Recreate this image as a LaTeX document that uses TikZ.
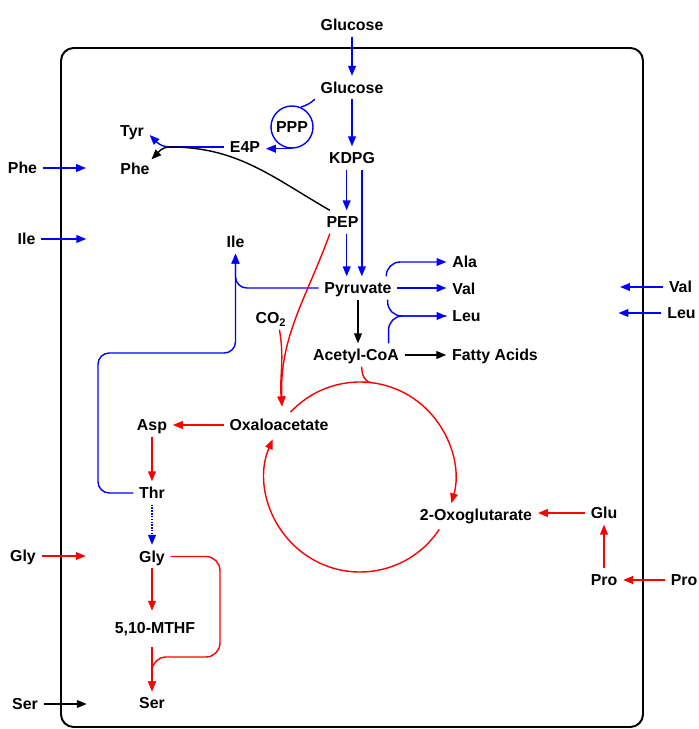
\documentclass[tikz,border=0pt]{standalone}
\usepackage{fontspec}
\setmainfont{Liberation Sans}
\usetikzlibrary{calc,arrows.meta}
\definecolor{PathBlue}{RGB}{0,0,255}
\definecolor{PathRed}{RGB}{255,0,0}

\begin{document}
\begin{tikzpicture}[x=0.025cm, y=0.025cm,
    met/.style={font=\fontsize{11.3}{13}\selectfont\bfseries, text height=8.2pt, text depth=0pt, inner sep=4pt},
    flow/.style={line width=1pt, -{Triangle[length=7pt,width=5.5pt]}},
    bluearr/.style={flow, PathBlue},
    redarr/.style={flow, PathRed},
    blackarr/.style={flow, black},
    bluepath/.style={line width=1pt, PathBlue},
    redpath/.style={line width=1pt, PathRed}]
  \useasboundingbox (0,0) rectangle (698,729);
  \draw[line width=1.4pt, rounded corners=9pt] (61,2) rectangle (643,681);

  % metabolites inside the cell
  \node[met] (glcout) at (352,704) {Glucose};
  \node[met] (glc) at (352,641.5) {Glucose};
  \node[draw=PathBlue, line width=1pt, circle, minimum size=1.05cm, inner sep=0pt,
        font=\fontsize{11.3}{13}\selectfont\bfseries] (ppp) at (292,602) {PPP};
  \node[met] (e4p) at (245,582) {E4P};
  \node[met] (tyr) at (132,598) {Tyr};
  \node[met] (phe) at (135,560) {Phe};
  \node[met] (kdpg) at (352,571) {KDPG};
  \node[met] (pep) at (342.5,507) {PEP};
  \node[met] (ile) at (235.5,487) {Ile};
  \node[met] (pyr) at (358,441) {Pyruvate};
  \node[met, anchor=west] (ala) at (446.4,467) {Ala};
  \node[met, anchor=west] (val) at (446.4,440) {Val};
  \node[met, anchor=west] (leu) at (446.4,413) {Leu};
  \node[met] (co2) at (271,411) {CO\textsubscript{2}};
  \node[met] (acoa) at (356,374) {Acetyl-CoA};
  \node[met] (fatty) at (495,374) {Fatty Acids};
  \node[met] (oaa) at (279,304) {Oxaloacetate};
  \node[met] (asp) at (152,304) {Asp};
  \node[met] (thr) at (152,236) {Thr};
  \node[met] (gly) at (152,172.5) {Gly};
  \node[met] (mthf) at (155,101) {5,10-MTHF};
  \node[met] (ser) at (152,26) {Ser};
  \node[met] (oxo) at (476,214) {2-Oxoglutarate};
  \node[met] (glu) at (604,216) {Glu};
  \node[met] (pro) at (604,149) {Pro};

  % uptake from outside
  \node[met] (pheout) at (22.5,561) {Phe};
  \node[met] (ileout) at (26.5,490) {Ile};
  \node[met] (glyout) at (23,173) {Gly};
  \node[met] (serout) at (25,25) {Ser};
  \node[met] (valout) at (680.5,442) {Val};
  \node[met] (leuout) at (681.5,416) {Leu};
  \node[met] (proout) at (684,149) {Pro};

  \coordinate (aro) at (170,582);
  \coordinate (thrloop) at (98,376);
  \coordinate (glyloop) at (220,72);
  \coordinate (tca) at (360,252);
  \coordinate (oaatop) at ($(oaa.north)+(3,7)$);

  % glucose, PPP and aromatics
  \draw[bluearr] (glcout) -- (glc);
  \draw[bluearr] (glc) -- (kdpg);
  \draw[bluepath] (glc.south west) to[out=225,in=20] (ppp.66);
  \draw[bluearr] (ppp.south) -- (ppp.south -| e4p.east);
  \draw[bluepath] (e4p.west) -- (aro);
  \draw[bluearr] (aro) to[out=180,in=-45] ($(tyr.east)+(0,-4)$);
  \draw[blackarr] ([xshift=-9pt]pep.north) to[out=150,in=0] (aro) to[out=180,in=45] ($(phe.north east)+(-4,-2)$);

  % KDPG, PEP, pyruvate
  \draw[bluearr] ([xshift=-3.8pt]kdpg.south) -- ([xshift=-3.8pt]kdpg.south |- pep.north);
  \draw[bluearr] ([xshift=7pt]kdpg.south) -- ([xshift=7pt]kdpg.south |- pyr.north);
  \draw[bluearr] ([xshift=3pt]pep.south) -- ([xshift=3pt]pep.south |- pyr.north);
  \draw[bluearr, rounded corners=8pt] (pyr.west) -| (ile.south);
  \draw[bluearr, rounded corners=8pt] (thr.west) -| (thrloop) -| (ile.south);
  \draw[bluearr, rounded corners=10pt] ([xshift=-8pt]pyr.north east) |- (ala.west);
  \draw[bluearr] (pyr.east) -- (pyr.east -| val.west);
  \draw[bluearr, rounded corners=10pt] ([xshift=-7pt]pyr.south east) |- (leu.west);
  \draw[bluepath, rounded corners=10pt] ([xshift=-11.5pt]acoa.north east) |- (leu.west);
  \draw[blackarr] (pyr.south) -- (pyr.south |- acoa.north);
  \draw[blackarr] (acoa) -- (fatty);

  % anaplerosis and aspartate family
  \draw[redarr] ([xshift=6pt]co2.south) to[out=-80,in=95] (oaatop);
  \draw[redarr] ([xshift=-9pt]pep.south) to[out=-110,in=92] (oaatop);
  \draw[redarr] (oaa.west) -- (oaa.west -| asp.east);
  \draw[redarr] (asp) -- (thr);
  \draw[bluearr, densely dotted] (thr) -- (gly);
  \draw[redarr, shorten >=4pt] (gly) -- (gly |- mthf.north);
  \draw[redarr, shorten <=5pt] (mthf.south -| ser.north) -- (ser.north);
  \draw[redarr, rounded corners=10pt] (gly.east) -| (glyloop) -| (ser.north);

  % TCA cycle
  \draw[redarr] ($(tca)+(137:95)$) arc[start angle=137, end angle=-16, radius=2.375cm];
  \draw[redarr] ($(tca)+(-33.5:95)$) arc[start angle=-33.5, end angle=-203.4, radius=2.375cm];
  \draw[redpath] ([xshift=4pt]acoa.south) to[out=-90,in=175] ($(tca)+(83:95)$);
  \draw[redarr] (glu.west) -- (glu.west -| oxo.east);
  \draw[redarr] (pro) -- (glu);
  \draw[redarr] (proout) -- (pro);

  % transport
  \draw[bluearr] (pheout.east) -- +(43,0);
  \draw[bluearr] (ileout.east) -- +(45,0);
  \draw[redarr] (glyout.east) -- +(44,0);
  \draw[blackarr] (serout.east) -- +(43,0);
  \draw[bluearr] (valout.west) -- +(-43,0);
  \draw[bluearr] (leuout.west) -- +(-43,0);
\end{tikzpicture}
\end{document}
